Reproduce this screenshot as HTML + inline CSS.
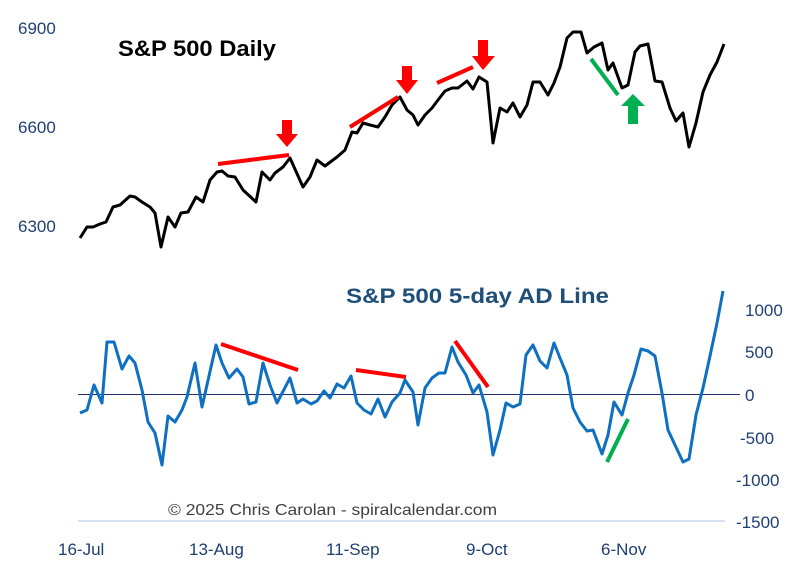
<!DOCTYPE html>
<html><head><meta charset="utf-8"><style>
html,body{margin:0;padding:0;background:#fff;}
svg{display:block;}
.ax{font-family:"Liberation Sans Narrow","Liberation Sans",sans-serif;font-size:17px;fill:#1f3f73;}
</style></head><body>
<svg width="799" height="569" viewBox="0 0 799 569" xmlns="http://www.w3.org/2000/svg">
<rect width="799" height="569" fill="#fff"/>
<text class="ax" x="18" y="34">6900</text>
<text class="ax" x="18" y="133">6600</text>
<text class="ax" x="18" y="232">6300</text>
<text x="118" y="56" font-family="Liberation Sans,sans-serif" font-weight="bold" font-size="22" fill="#000" textLength="158" lengthAdjust="spacingAndGlyphs">S&amp;P 500 Daily</text>
<polyline fill="none" stroke="#000" stroke-width="3" stroke-linejoin="round" points="80,238 87,227 93,227 100,224 106,222 113,207 120,205 130,196 135,197 142,202 150,207 155,213 161,247 168,217 175,227 181,213 188,212 196,197 203,202 210,180 217,172 222,171 228,176 235,177 243,190 256,202 262,172 270,180 275,173 283,167 290,158 303,187 310,177 317,160 325,166 337,157 345,150 352,132 357,133 363,123 370,125 378,127 385,117 392,105 400,97 407,110 413,115 418,125 425,115 432,108 438,100 445,91 452,88 458,88 467,81 473,89 479,77 487,82 493,143 500,108 507,112 513,103 520,117 527,105 533,82 540,82 548,95 554,83 560,67 567,38 573,32 581,32 587,53 594,47 602,43 608,70 613,63 622,88 628,85 635,52 640,46 648,44 655,81 662,82 670,108 676,121 683,113 689,147 696,123 703,92 710,75 717,62 724,44"/>
<g stroke="#f00" stroke-width="4">
<line x1="218" y1="164" x2="289" y2="155"/>
<line x1="350" y1="127" x2="398" y2="97"/>
<line x1="437" y1="83" x2="473" y2="67"/>
</g>
<g fill="#f00">
<polygon points="282,120 292,120 292,134 298,134 287,147 276,134 282,134"/>
<polygon points="402,66 412,66 412,80 418,80 407,94 396,80 402,80"/>
<polygon points="478,40 488,40 488,56 495,56 483,70 472,56 478,56"/>
</g>
<line x1="591" y1="59" x2="618" y2="95" stroke="#00b050" stroke-width="4"/>
<polygon points="633,94 645,106 638,106 638,124 628,124 628,106 621,106" fill="#00b050"/>
<text x="346" y="303" font-family="Liberation Sans,sans-serif" font-weight="bold" font-size="21" fill="#1f4e79" textLength="263" lengthAdjust="spacingAndGlyphs">S&amp;P 500 5-day AD Line</text>
<text class="ax" x="745" y="316">1000</text>
<text class="ax" x="745" y="358">500</text>
<text class="ax" x="745" y="401">0</text>
<text class="ax" x="740" y="444">-500</text>
<text class="ax" x="736" y="486">-1000</text>
<text class="ax" x="736" y="528">-1500</text>
<line x1="78" y1="394.5" x2="740" y2="394.5" stroke="#1f2f6f" stroke-width="1"/>
<line x1="78" y1="521" x2="725" y2="521" stroke="#d5e2f2" stroke-width="2"/>
<polyline fill="none" stroke="#0f6fc1" stroke-width="3" stroke-linejoin="round" points="80,413 87,410 94,385 102,403 107,342 114,342 122,369 129,356 135,363 142,390 148,422 155,433 162,465 168,416 175,422 182,410 187,397 195,363 202,407 216,345 222,363 229,378 237,369 243,377 249,404 256,402 263,363 270,385 277,403 290,378 297,403 303,399 311,404 317,401 324,391 330,398 337,384 344,388 351,376 357,403 364,410 371,414 378,399 385,417 392,402 400,393 405,380 413,392 418,425 425,388 432,378 439,373 445,373 452,347 458,362 466,375 473,393 479,385 487,412 493,455 500,430 506,403 513,407 520,404 526,355 533,345 540,361 547,368 554,343 560,358 567,375 573,408 580,422 587,431 593,430 602,454 608,435 614,402 622,415 628,393 634,375 641,349 648,351 655,356 662,393 668,430 675,445 683,462 689,459 696,415 703,388 710,356 717,323 723,291"/>
<g stroke="#f00" stroke-width="4">
<line x1="221" y1="344" x2="298" y2="370"/>
<line x1="356" y1="370" x2="406" y2="377"/>
<line x1="455" y1="341" x2="488" y2="387"/>
</g>
<line x1="607" y1="462" x2="628" y2="419" stroke="#00b050" stroke-width="4"/>
<text x="168" y="515" font-family="Liberation Sans,sans-serif" font-size="16" fill="#404040" textLength="329" lengthAdjust="spacingAndGlyphs">© 2025 Chris Carolan - spiralcalendar.com</text>
<text class="ax" x="58" y="555">16-Jul</text>
<text class="ax" x="189" y="555">13-Aug</text>
<text class="ax" x="326" y="555">11-Sep</text>
<text class="ax" x="466" y="555">9-Oct</text>
<text class="ax" x="601" y="555">6-Nov</text>
</svg>
</body></html>
